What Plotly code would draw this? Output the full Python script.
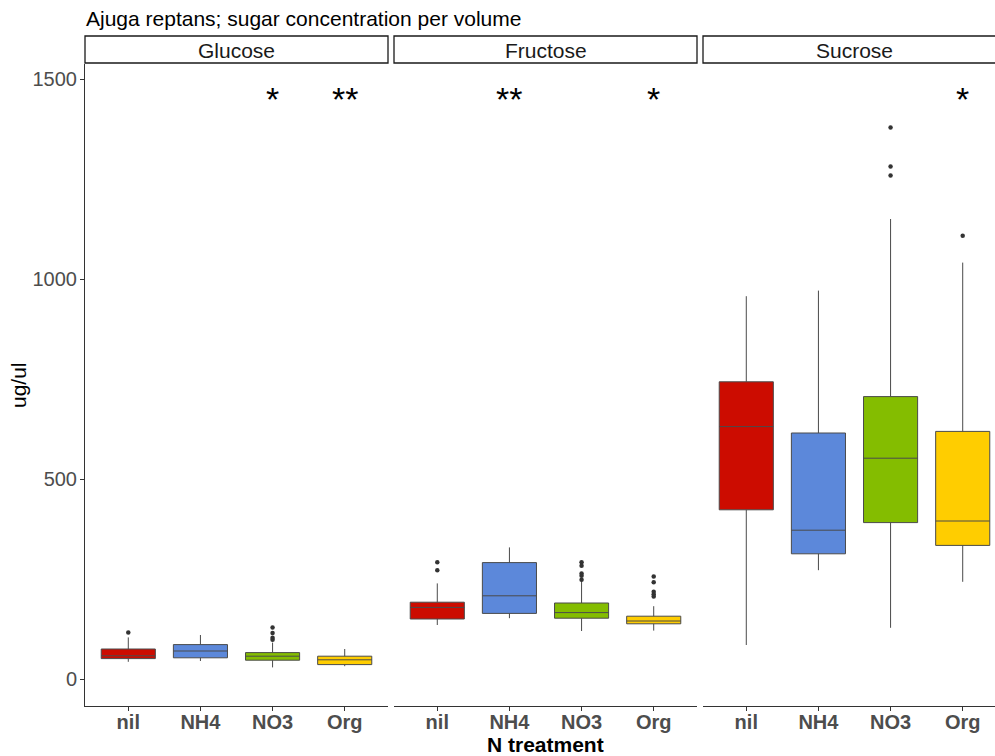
import plotly.graph_objects as go

# ---------------- data ----------------
categories = ["nil", "NH4", "NO3", "Org"]
sugars = ["Glucose", "Fructose", "Sucrose"]
colors = ["#CC0C00", "#5C88DA", "#84BD00", "#FFCD00"]

# box statistics per sugar (order: nil, NH4, NO3, Org)
glucose_lo = [43, 45, 29, 32]
glucose_q1 = [51, 53, 47, 36]
glucose_med = [58, 70, 57, 48]
glucose_q3 = [75, 86, 66, 57]
glucose_hi = [104, 110, 91, 75]
glucose_out = [[116], [], [129, 115, 103, 98], []]

fructose_lo = [135, 152, 120, 121]
fructose_q1 = [150, 164, 152, 138]
fructose_med = [179, 208, 166, 145]
fructose_q3 = [192, 291, 190, 157]
fructose_hi = [239, 329, 245, 182]
fructose_out = [[292, 272], [], [292, 283, 264, 258, 248], [256, 242, 218, 212, 206]]

sucrose_lo = [85, 272, 128, 243]
sucrose_q1 = [423, 313, 391, 334]
sucrose_med = [631, 372, 552, 395]
sucrose_q3 = [743, 615, 706, 619]
sucrose_hi = [957, 971, 1150, 1041]
sucrose_out = [[], [], [1379, 1281, 1259], [1108]]

signif = [["", "", "*", "**"], ["", "**", "", "*"], ["", "", "", "*"]]
yticks = [0, 500, 1000, 1500]

stats = [
    (glucose_lo, glucose_q1, glucose_med, glucose_q3, glucose_hi, glucose_out),
    (fructose_lo, fructose_q1, fructose_med, fructose_q3, fructose_hi, fructose_out),
    (sucrose_lo, sucrose_q1, sucrose_med, sucrose_q3, sucrose_hi, sucrose_out),
]

# ---------------- layout helpers ----------------
W, H = 995, 756
FONT = "Liberation Sans, Arial, sans-serif"


def px(x):
    return x / W


def py(y):
    return 1 - y / H


panel_px = [(85, 388), (394, 697), (703, 995)]
ranges = [[-0.6, 3.6], [-0.6, 3.6], [-0.6, -0.6 + (995 - 703) / ((1006 - 703) / 4.2)]]
y_top, y_bot = 64, 706
y_range = [-67.5, 1537.5]

fig = go.Figure()

for i, (lo, q1, med, q3, hi, outs) in enumerate(stats):
    xa = "x" if i == 0 else f"x{i+1}"
    ya = "y" if i == 0 else f"y{i+1}"
    for j, cat in enumerate(categories):
        fig.add_trace(go.Box(
            x=[cat], q1=[q1[j]], median=[med[j]], q3=[q3[j]],
            lowerfence=[lo[j]], upperfence=[hi[j]],
            fillcolor=colors[j], line=dict(color="#4a4a4a", width=1),
            width=0.75, whiskerwidth=0, boxpoints=False,
            xaxis=xa, yaxis=ya, showlegend=False, hoverinfo="skip",
        ))
        if outs[j]:
            fig.add_trace(go.Scatter(
                x=[cat] * len(outs[j]), y=outs[j], mode="markers",
                marker=dict(color="#333333", size=4.5),
                xaxis=xa, yaxis=ya, showlegend=False, hoverinfo="skip",
            ))

layout = dict(
    width=W, height=H,
    margin=dict(l=0, r=0, t=0, b=0),
    paper_bgcolor="white", plot_bgcolor="white",
    font=dict(family=FONT),
    showlegend=False,
)

for i, (x0, x1) in enumerate(panel_px):
    key = "xaxis" if i == 0 else f"xaxis{i+1}"
    ykey = "yaxis" if i == 0 else f"yaxis{i+1}"
    layout[key] = dict(
        domain=[px(x0), min(px(x1), 1.0)],
        anchor="y" if i == 0 else f"y{i+1}",
        type="category", categoryorder="array", categoryarray=categories,
        range=ranges[i],
        showline=True, linecolor="#333333", linewidth=1,
        ticks="outside", ticklen=4, tickcolor="#333333",
        ticklabelstandoff=-6,
        showgrid=False, zeroline=False,
        tickfont=dict(family=FONT, size=20, color="#4D4D4D", weight="bold"),
        automargin=False,
    )
    layout[ykey] = dict(
        domain=[py(y_bot), py(y_top)],
        anchor="x" if i == 0 else f"x{i+1}",
        range=y_range,
        tickvals=yticks,
        showticklabels=(i == 0),
        showline=(i == 0), linecolor="#333333", linewidth=1,
        ticks="outside" if i == 0 else "", ticklen=4, tickcolor="#333333",
        ticklabelstandoff=-1,
        showgrid=False, zeroline=False,
        tickfont=dict(family=FONT, size=20, color="#4D4D4D"),
        automargin=False,
    )
    if i > 0:
        layout[ykey]["matches"] = "y"

fig.update_layout(**layout)

shapes = []
annotations = []
for i, (x0, x1) in enumerate(panel_px):
    right = x1 if i < 2 else 1006
    shapes.append(dict(
        type="rect", xref="paper", yref="paper",
        x0=px(x0), x1=px(right), y0=py(63), y1=py(36),
        line=dict(color="#1A1A1A", width=1.3), fillcolor="white", layer="above",
    ))
    annotations.append(dict(
        x=px((x0 + right) / 2), y=py(50), xref="paper", yref="paper",
        text=sugars[i], showarrow=False, xanchor="center", yanchor="middle",
        font=dict(family=FONT, size=21, color="#1A1A1A"),
    ))
    xa = "x" if i == 0 else f"x{i+1}"
    for j, lab in enumerate(signif[i]):
        if lab:
            annotations.append(dict(
                x=categories[j], y=py(99), xref=xa, yref="paper",
                text=lab, showarrow=False, xanchor="center", yanchor="middle",
                font=dict(family=FONT, size=34, color="black"),
            ))

annotations.append(dict(
    x=px(84), y=py(18), xref="paper", yref="paper",
    text="Ajuga reptans; sugar concentration per volume", showarrow=False,
    xanchor="left", yanchor="middle",
    font=dict(family=FONT, size=21, color="black"),
))
annotations.append(dict(
    x=px(545), y=py(744), xref="paper", yref="paper",
    text="<b>N treatment</b>", showarrow=False, xanchor="center", yanchor="middle",
    font=dict(family=FONT, size=21, color="black"),
))
annotations.append(dict(
    x=px(18), y=py(385), xref="paper", yref="paper",
    text="ug/ul", showarrow=False, xanchor="center", yanchor="middle",
    textangle=-90,
    font=dict(family=FONT, size=21, color="black"),
))

fig.update_layout(shapes=shapes, annotations=annotations)
fig.write_html("out.html")
